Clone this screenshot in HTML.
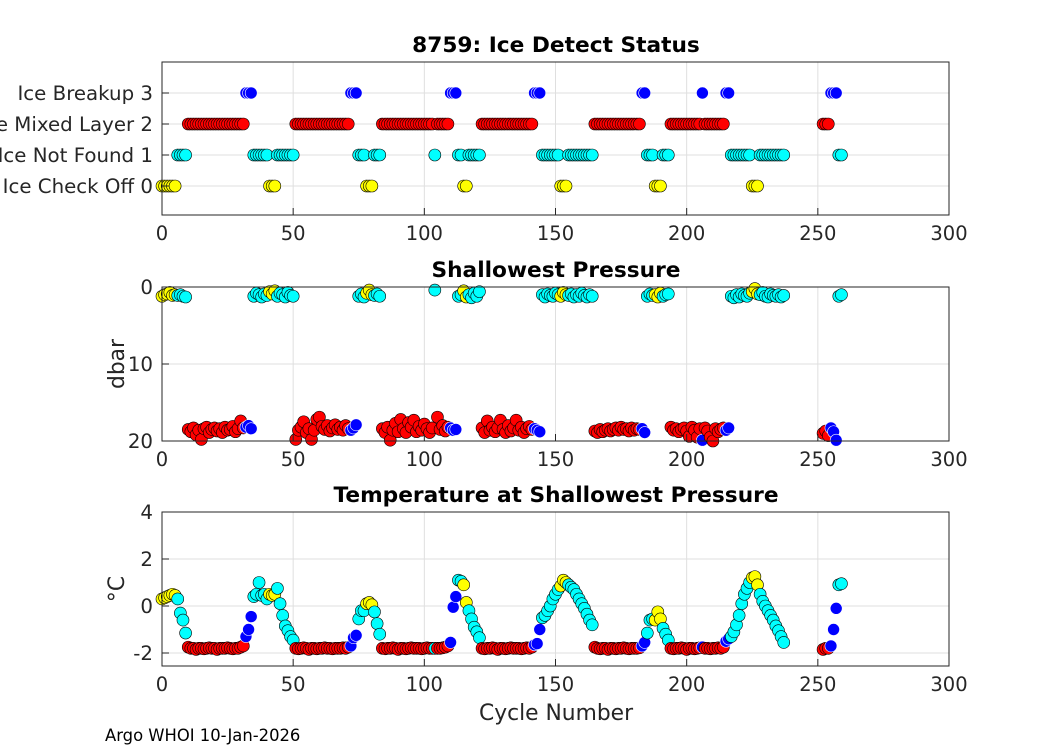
<!DOCTYPE html>
<html><head><meta charset="utf-8"><style>
html,body{margin:0;padding:0;background:#fff;width:1050px;height:750px;overflow:hidden}
svg{display:block;font-family:"DejaVu Sans","Liberation Sans",sans-serif}
</style></head><body>
<svg id="chart" width="1050" height="750" viewBox="0 0 1050 750" xmlns="http://www.w3.org/2000/svg">
<rect width="1050" height="750" fill="#fff"/>
<g id="grid"></g><g id="marks"></g><g id="axes"></g>
<text x="556" y="52" text-anchor="middle" font-size="21.7" font-weight="bold" fill="#000">8759: Ice Detect Status</text>
<text x="556" y="277" text-anchor="middle" font-size="21.7" font-weight="bold" fill="#000">Shallowest Pressure</text>
<text x="556" y="502" text-anchor="middle" font-size="21.7" font-weight="bold" fill="#000">Temperature at Shallowest Pressure</text>
<text transform="translate(124,364) rotate(-90)" text-anchor="middle" font-size="21.8" fill="#262626">dbar</text>
<text transform="translate(124,589) rotate(-90)" text-anchor="middle" font-size="21.8" fill="#262626">°C</text>
<text x="556" y="720" text-anchor="middle" font-size="21.8" fill="#262626">Cycle Number</text>
<text x="105" y="741" font-size="16.4" fill="#000">Argo WHOI 10-Jan-2026</text>
</svg>
<script>
// segment start cycles and status codes (0 off,1 not found,2 mixed layer,3 breakup)
const segStart=[0,6,10,32,35,41,44,51,72,75,78,81,84,104,105,110,113,115,117,122,142,145,152,155,165,183,185,188,191,194,206,207,215,217,225,228,252,255,258];
const segStatus=[0,1,2,3,1,0,1,2,3,1,0,1,2,1,2,3,1,0,1,2,3,1,0,1,2,3,1,0,1,2,3,2,3,1,0,1,2,3,1];
const tempSegs=[
[.3,.35,.4,.45,.5,.45],[.3,-.3,-.6,-1.15],
[-1.75,-1.8,-1.8,-1.85,-1.8,-1.8,-1.82,-1.8,-1.78,-1.8,-1.8,-1.85,-1.8,-1.8,-1.8,-1.78,-1.8,-1.82,-1.8,-1.8,-1.75,-1.7],
[-1.3,-1.0,-.45],[.4,.5,1.0,.45,.5,.3],[.5,.45,.5],[.75,.1,-.4,-.85,-1.05,-1.3,-1.45],
[-1.8,-1.82,-1.8,-1.78,-1.8,-1.85,-1.8,-1.8,-1.82,-1.8,-1.8,-1.78,-1.8,-1.8,-1.82,-1.8,-1.8,-1.8,-1.78,-1.8,-1.75],
[-1.7,-1.35,-1.25],[-.55,-.2,-.2],[.1,.15,.05],[-.25,-.75,-1.2],
[-1.8,-1.82,-1.8,-1.8,-1.78,-1.8,-1.85,-1.8,-1.8,-1.82,-1.8,-1.78,-1.8,-1.8,-1.8,-1.82,-1.8,-1.78,-1.8,-1.8],
[-1.8],[-1.8,-1.8,-1.78,-1.75,-1.7],[-1.55,-.05,.4],[1.1,1.05],[.9,.15],[-.2,-.55,-.9,-1.1,-1.35],
[-1.8,-1.82,-1.8,-1.8,-1.78,-1.8,-1.85,-1.8,-1.8,-1.82,-1.8,-1.78,-1.8,-1.8,-1.8,-1.82,-1.8,-1.78,-1.8,-1.75],
[-1.65,-1.6,-1.0],[-.5,-.4,-.2,0,.3,.5,.7],[.85,1.1,1.0],[.9,.8,.7,.5,.3,.1,-.1,-.35,-.6,-.8],
[-1.75,-1.8,-1.82,-1.8,-1.8,-1.85,-1.8,-1.8,-1.82,-1.8,-1.8,-1.78,-1.8,-1.82,-1.8,-1.8,-1.8,-1.78],
[-1.7,-1.55],[-1.15,-.6,-.55],[-.6,-.25,-.55],[-.95,-1.2,-1.45],
[-1.8,-1.82,-1.8,-1.8,-1.78,-1.8,-1.85,-1.8,-1.8,-1.82,-1.8,-1.78],
[-1.75],[-1.8,-1.8,-1.82,-1.8,-1.8,-1.78,-1.8,-1.75],[-1.5,-1.4],
[-1.3,-1.1,-.8,-.4,.1,.5,.75,1.0],[1.2,1.25,.9],[.5,.2,0,-.2,-.4,-.6,-.85,-1.05,-1.3,-1.55],
[-1.85,-1.8,-1.8],[-1.7,-1.0,-.1],[.9,.95]];
const presSegs=[
[1.2,1.0,.9,.7,1.1,1.0],[1.1,1.0,1.2,1.3],
[18.5,18.8,18.3,19.2,18.6,19.8,18.4,18.2,18.9,18.5,18.3,18.7,18.4,18.9,18.2,18.6,18.5,18.1,18.8,18.4,17.4,18.3],
[18.2,18.0,18.4],[1.2,.8,1.0,1.3,.9,1.1],[.6,.9,.5],[1.2,.8,1.0,1.3,.7,1.1,1.2],
[19.8,18.6,18.2,17.5,18.9,18.4,19.8,18.6,17.2,16.9,18.1,18.5,18.0,18.7,18.3,17.9,18.5,18.2,18.6,18.0,18.4],
[18.6,18.3,17.9],[1.2,.9,1.3],[.8,.4,1.0],[1.1,.9,1.2],
[18.4,18.9,18.2,19.9,18.6,17.7,18.8,17.2,18.4,18.9,17.6,18.2,17.3,18.8,18.1,18.6,17.8,18.4,18.9,18.3],
[.4],[16.9,18.5,18.0,18.7,18.2],[18.3,18.6,18.5],[1.2,1.0],[.5,1.3],[1.0,1.4,.8,1.2,.6],
[18.3,18.9,17.4,18.6,18.2,18.8,18.3,17.3,18.5,18.9,18.0,18.7,18.3,17.3,18.6,18.2,18.9,18.4,18.1,18.5],
[18.4,18.6,18.8],[1.0,1.3,.9,1.1,1.2,.8,1.0],[1.2,.7,1.0],[1.1,.9,1.3,1.0,1.2,.8,1.1,1.3,1.0,1.2],
[18.7,18.9,18.5,18.8,18.6,18.4,18.7,18.5,18.3,18.6,18.2,18.5,18.4,18.7,18.3,18.6,18.4,18.5],
[18.4,18.9],[1.2,.9,1.1],[1.0,1.3,.8],[1.2,1.0,.9],
[18.2,18.6,18.4,18.8,18.5,18.3,18.7,19.4,18.2,18.6,19.5,18.4],
[19.9],[18.3,18.7,19.5,20.0,18.4,18.8,18.5,18.3],[18.6,18.3],
[1.2,1.4,1.0,1.3,.9,1.1,1.2,.8],[.6,.2,.9],[1.0,.7,1.2,1.3,.9,1.1,1.2,1.0,1.3,1.1],
[19.0,18.7,19.3],[18.3,18.8,19.9],[1.2,1.0]];
const xTicks=[0,50,100,150,200,250,300];
const statusTicks=[0,1,2,3];
const statusLabels=["Ice Check Off 0","Ice Not Found 1","Ice Mixed Layer 2","Ice Breakup 3"];
const presTicks=[0,10,20];
const tempTicks=[-2,0,2,4];

const NS="http://www.w3.org/2000/svg";
const L=162,R=949;
const X=c=>L+(c-0)/(300-0)*(R-L);
const panels=[
 {top:62,bot:215,y0:4,y1:-0.935,ticks:statusTicks,labels:statusLabels,name:'status'},
 {top:287,bot:441,y0:0,y1:20,ticks:presTicks,labels:presTicks.map(String),name:'pressure'},
 {top:512,bot:666,y0:4,y1:-2.553,ticks:tempTicks,labels:tempTicks.map(String),name:'temperature'}];
panels.forEach(p=>p.Y=v=>p.top+(v-p.y0)/(p.y1-p.y0)*(p.bot-p.top));
const colors=['#ffff00','#00ffff','#ff0000','#0000ff'];
function mk(tag,attrs,parent){const e=document.createElementNS(NS,tag);for(const k in attrs)e.setAttribute(k,attrs[k]);parent.appendChild(e);return e;}
const grid=document.getElementById('grid'),marks=document.getElementById('marks'),axes=document.getElementById('axes');
panels.forEach(p=>{
  xTicks.forEach(t=>{
    if(t>0&&t<300){const g=mk('line',{x1:X(t),x2:X(t),y1:p.top,y2:p.bot,stroke:'#dfdfdf','stroke-width':1},grid);
    
    }
    const tk=mk('line',{x1:X(t),x2:X(t),y1:p.bot,y2:p.bot-7,stroke:'#262626','stroke-width':1},axes);
    
    
    const tl=mk('text',{x:X(t),y:p.bot+25,'text-anchor':'middle','font-size':19.5,fill:'#262626'},axes);
    tl.textContent=t;
    
    
  });
  p.ticks.forEach((t,i)=>{
    const y=p.Y(t);
    const g=mk('line',{x1:L,x2:R,y1:y,y2:y,stroke:'#dfdfdf','stroke-width':1},grid);
    
    
    const tk=mk('line',{x1:L,x2:L+7,y1:y,y2:y,stroke:'#262626','stroke-width':1},axes);
    
    
    const tl=mk('text',{x:L-9,y:y+7,'text-anchor':'end','font-size':19.8,fill:'#262626'},axes);
    tl.textContent=p.labels[i];
    
    
  });
  const box=mk('rect',{x:L,y:p.top,width:R-L,height:p.bot-p.top,fill:'none',stroke:'#262626','stroke-width':1},axes);
  
  
});
segStart.forEach((s,si)=>{
  const st=segStatus[si];
  tempSegs[si].forEach((tv,i)=>{
    const c=s+i;
    const vals=[st,presSegs[si][i],tv];
    panels.forEach((p,pi)=>{
      const m=mk('circle',{cx:X(c),cy:p.Y(vals[pi]),r:6,fill:colors[st],stroke:st===3?'#ffffff':'#000000','stroke-width':0.6},marks);
      
      
    });
  });
});
</script>
</body></html>
